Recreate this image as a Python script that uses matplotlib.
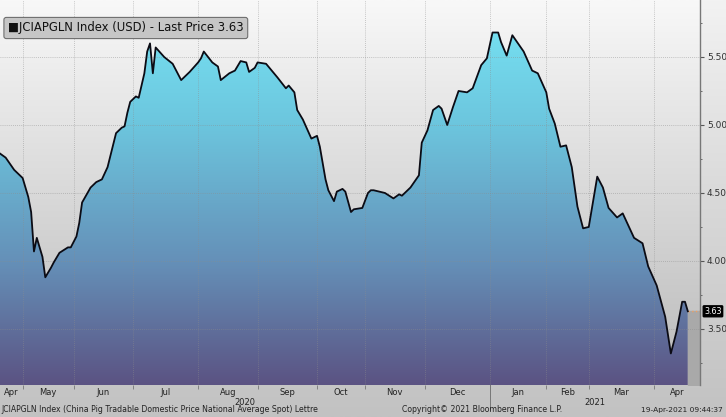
import numpy as np
import matplotlib
matplotlib.use("Agg")
import matplotlib.pyplot as plt
import matplotlib.transforms as mtransforms
from matplotlib.colors import LinearSegmentedColormap

# trading-session index (China trading days, 20-Apr-2020 .. 19-Apr-2021) and price
session = [0, 2, 5, 8, 10, 11, 12, 13, 15, 16, 18, 19, 21, 24, 25, 27, 28, 29, 32, 34,
           36, 38, 41, 43, 44, 45, 46, 48, 49, 51, 52, 53, 54, 55, 58, 61, 64, 67, 70, 71,
           72, 75, 77, 78, 81, 83, 85, 87, 88, 90, 91, 94, 98, 101, 102, 104, 105, 107, 110, 112,
           113, 115, 116, 118, 119, 121, 122, 124, 125, 128, 130, 131, 132, 134, 136, 139, 141, 142, 145, 148,
           149, 151, 153, 155, 156, 158, 160, 162, 165, 167, 170, 172, 174, 176, 177, 179, 181, 183, 185, 188,
           190, 193, 194, 196, 198, 200, 202, 204, 206, 208, 211, 213, 215, 218, 220, 222, 224, 227, 229, 232,
           235, 237, 239, 241, 242, 243]
price = [4.79, 4.76, 4.67, 4.61, 4.47, 4.36, 4.07, 4.17, 4.03, 3.88, 3.95, 3.99, 4.06, 4.10, 4.10, 4.18, 4.28, 4.43, 4.54, 4.58,
         4.60, 4.69, 4.94, 4.98, 4.99, 5.09, 5.17, 5.21, 5.20, 5.38, 5.54, 5.60, 5.38, 5.57, 5.50, 5.45, 5.33, 5.39, 5.46, 5.49,
         5.54, 5.46, 5.43, 5.33, 5.38, 5.40, 5.47, 5.46, 5.39, 5.42, 5.46, 5.45, 5.35, 5.27, 5.29, 5.24, 5.11, 5.04, 4.90, 4.92,
         4.84, 4.60, 4.52, 4.44, 4.51, 4.53, 4.51, 4.36, 4.38, 4.39, 4.50, 4.52, 4.52, 4.51, 4.50, 4.46, 4.49, 4.48, 4.54, 4.63,
         4.87, 4.96, 5.11, 5.14, 5.12, 5.00, 5.13, 5.25, 5.24, 5.27, 5.44, 5.49, 5.68, 5.68, 5.61, 5.51, 5.66, 5.60, 5.54, 5.40,
         5.38, 5.24, 5.12, 5.01, 4.84, 4.85, 4.69, 4.40, 4.24, 4.25, 4.62, 4.54, 4.39, 4.32, 4.35, 4.26, 4.17, 4.13, 3.96, 3.82,
         3.59, 3.32, 3.48, 3.70, 3.70, 3.63]

month_start = [8, 26, 47, 70, 91, 112, 129, 150, 173, 193, 208, 231]
month_names = ["Apr", "May", "Jun", "Jul", "Aug", "Sep", "Oct", "Nov", "Dec", "Jan", "Feb", "Mar", "Apr"]
year_start = 173
years = ["2020", "2021"]
last_price = 3.63

yticks = [3.50, 4.00, 4.50, 5.00, 5.50]
xmin, xmax = 0, 247.3
ymin, ymax = 3.088, 5.919

fig = plt.figure(figsize=(7.26, 4.17), dpi=100)

# figure background gradient
bg = fig.add_axes([0, 0, 1, 1], zorder=-10)
bg.imshow(np.linspace(0, 1, 256).reshape(-1, 1),
          cmap=LinearSegmentedColormap.from_list("bg", ["#f2f2f2", "#d8d8d8", "#c2c2c2"]),
          aspect="auto", extent=[0, 1, 0, 1])
bg.set_axis_off()

ax = fig.add_axes([0, 1 - 385 / 417, 700 / 726, 385 / 417])
ax.set_facecolor("none")

# plot area background gradient
ax.imshow(np.linspace(1, 0, 256).reshape(-1, 1),
          cmap=LinearSegmentedColormap.from_list("pbg", ["#bababa", "#d9d9d9", "#f8f8f8"]),
          aspect="auto", extent=[xmin, xmax, ymin, ymax], zorder=0)

# gradient fill under the line
fill = ax.fill_between(session, price, ymin, facecolor="none", edgecolor="none")
fcmap = LinearSegmentedColormap.from_list(
    "fill", [(0.0, "#5b5383"), (0.32, "#6590b8"), (0.68, "#6cc6de"), (1.0, "#78e6f6")])
im = ax.imshow(np.linspace(1, 0, 256).reshape(-1, 1), cmap=fcmap, aspect="auto",
               extent=[xmin, xmax, ymin, ymax], zorder=1)
im.set_clip_path(fill.get_paths()[0], transform=ax.transData)

# grey strip after the last price
ax.fill_between([session[-1], xmax], [last_price, last_price], ymin, color="#a9a9a9", zorder=1)
ax.plot([session[-1], xmax], [last_price, last_price], ls=":", color="#f0a060", lw=1, zorder=2)

for m in month_start:
    ax.axvline(m, color="#8c8c8c", lw=0.6, ls=(0, (1, 1.5)), alpha=0.6, zorder=1.5)
for t in yticks:
    ax.axhline(t, color="#8c8c8c", lw=0.6, ls=(0, (1, 1.5)), alpha=0.6, zorder=1.5)

ax.plot(session, price, color="#0b0b14", lw=1.3, zorder=3)

ax.set_xlim(xmin, xmax)
ax.set_ylim(ymin, ymax)

# right axis
ax.yaxis.tick_right()
ax.set_yticks(yticks)
ax.set_yticklabels([f"{t:.2f}" for t in yticks], fontsize=6.5, color="#303030")
ax.set_yticks([3.25, 3.75, 4.25, 4.75, 5.25, 5.75], minor=True)
ax.tick_params(axis="y", which="major", length=3, width=0.8, color="#555555", pad=2)
ax.tick_params(axis="y", which="minor", length=1.5, width=0.6, color="#555555")
ax.set_xticks(month_start)
ax.set_xticklabels([])
ax.tick_params(axis="x", length=3, width=0.6, color="#777777")
for s in ["left", "top", "bottom"]:
    ax.spines[s].set_visible(False)
ax.spines["right"].set_color("#777777")
ax.spines["right"].set_linewidth(1.0)

# month labels centred in each month
edges = [xmin] + month_start + [xmax]
trans = mtransforms.blended_transform_factory(ax.transData, ax.transAxes)
for i, name in enumerate(month_names):
    ax.text((edges[i] + edges[i + 1]) / 2, -0.019, name, transform=trans,
            ha="center", va="center", fontsize=6, color="#222222")
ax.text((xmin + year_start) / 2, -0.045, years[0], transform=trans,
        ha="center", va="center", fontsize=6, color="#222222")
ax.text((year_start + xmax) / 2, -0.045, years[1], transform=trans,
        ha="center", va="center", fontsize=6, color="#222222")
ax.plot([year_start, year_start], [0, -0.065], transform=trans, color="#777777",
        lw=0.7, clip_on=False)

# last price tag
ytrans = mtransforms.blended_transform_factory(ax.transAxes, ax.transData)
ax.text(1.006, last_price, "3.63", transform=ytrans, ha="left", va="center",
        fontsize=5.8, color="white", zorder=5,
        bbox=dict(boxstyle="round,pad=0.12,rounding_size=0.1", fc="black", ec="black"))

# legend box
fig.text(8 / 726, 1 - 28 / 417, "\u25a0JCIAPGLN Index (USD) - Last Price 3.63",
         ha="left", va="center", fontsize=8.4, color="#111111",
         bbox=dict(boxstyle="round,pad=0.35,rounding_size=0.2", fc="#c6c6c6", ec="#6f6f6f", lw=0.8))

# footer
fig.text(1 / 726, 1 - 410 / 417,
         "JCIAPGLN Index (China Pig Tradable Domestic Price National Average Spot) Lettre",
         ha="left", va="center", fontsize=5.6, color="#222222")
fig.text(482 / 726, 1 - 410 / 417, "Copyright\u00a9 2021 Bloomberg Finance L.P.",
         ha="center", va="center", fontsize=5.6, color="#222222")
fig.text(723 / 726, 1 - 410 / 417, "19-Apr-2021 09:44:37",
         ha="right", va="center", fontsize=5.4, color="#222222")

fig.savefig("out.png", dpi=100)
